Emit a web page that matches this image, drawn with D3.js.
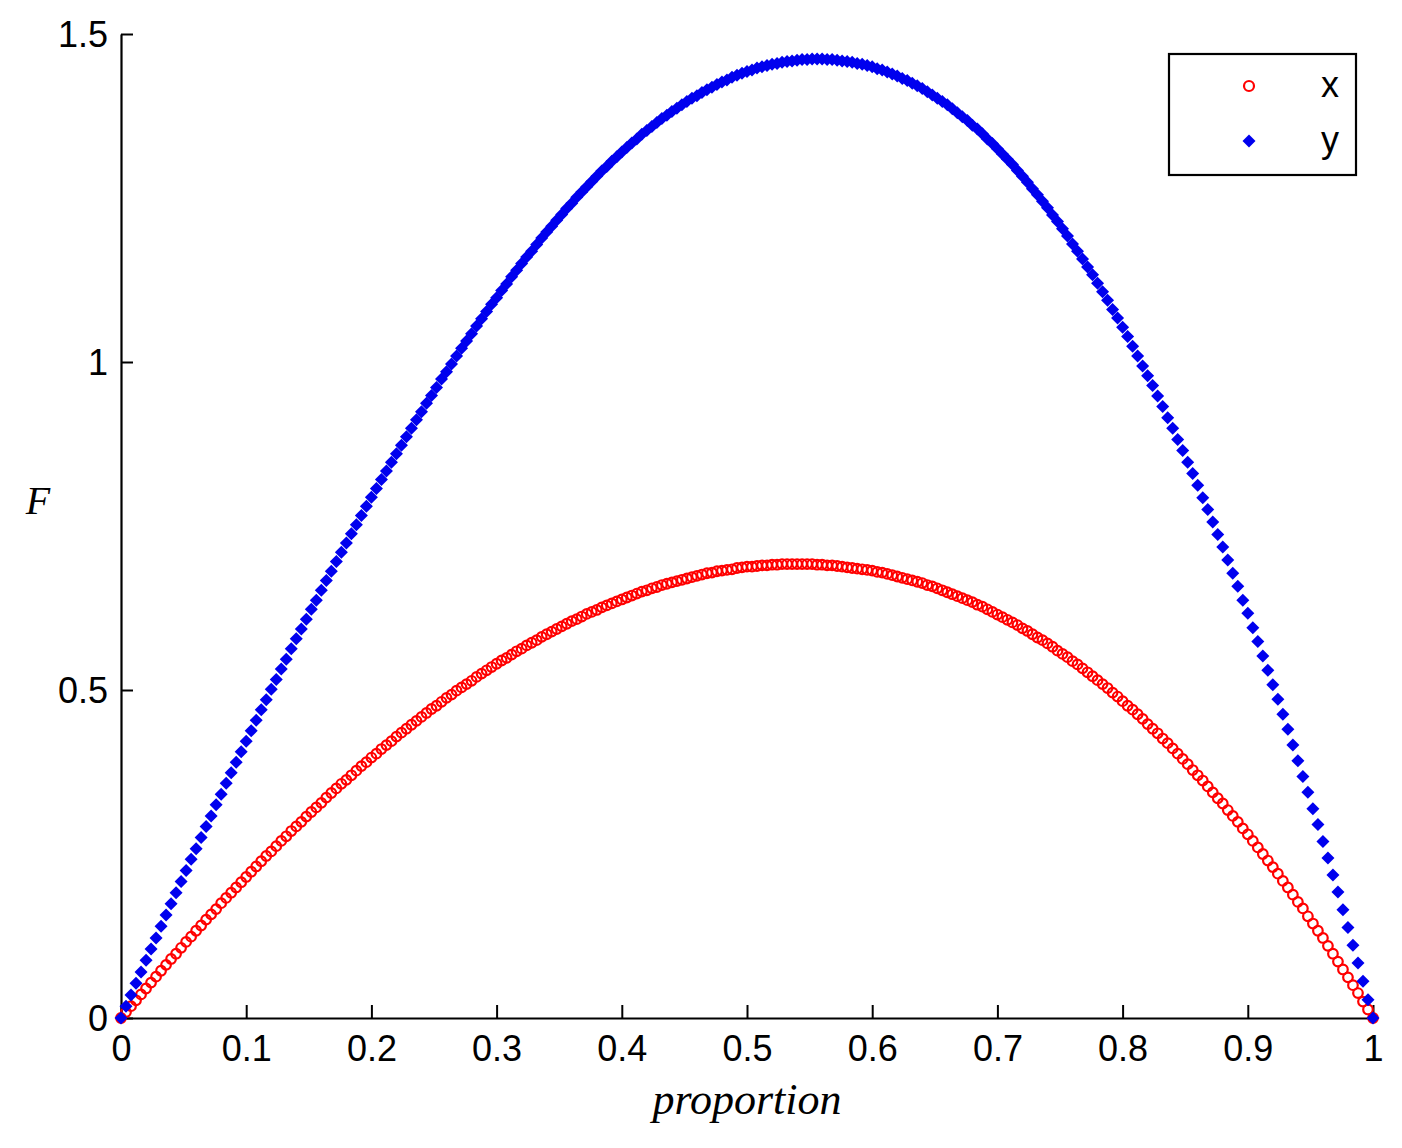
<!DOCTYPE html>
<html>
<head>
<meta charset="utf-8">
<script src="https://cdn.jsdelivr.net/npm/d3@7"></script>
<style>
  html, body { margin: 0; padding: 0; background: #ffffff; }
  svg { display: block; }
</style>
</head>
<body>
<svg id="chart" width="1402" height="1148"></svg>
<script>
// ---- data ----
const proportion = [
0,0.004,0.008,0.012,0.016,0.02,0.024,0.028,0.032,0.036,0.04,0.044,0.048,0.052,0.056,0.06,0.064,0.068,0.072,0.076,0.08,0.084,0.088,0.092,0.096,
0.1,0.104,0.108,0.112,0.116,0.12,0.124,0.128,0.132,0.136,0.14,0.144,0.148,0.152,0.156,0.16,0.164,0.168,0.172,0.176,0.18,0.184,0.188,0.192,0.196,
0.2,0.204,0.208,0.212,0.216,0.22,0.224,0.228,0.232,0.236,0.24,0.244,0.248,0.252,0.256,0.26,0.264,0.268,0.272,0.276,0.28,0.284,0.288,0.292,0.296,
0.3,0.304,0.308,0.312,0.316,0.32,0.324,0.328,0.332,0.336,0.34,0.344,0.348,0.352,0.356,0.36,0.364,0.368,0.372,0.376,0.38,0.384,0.388,0.392,0.396,
0.4,0.404,0.408,0.412,0.416,0.42,0.424,0.428,0.432,0.436,0.44,0.444,0.448,0.452,0.456,0.46,0.464,0.468,0.472,0.476,0.48,0.484,0.488,0.492,0.496,
0.5,0.504,0.508,0.512,0.516,0.52,0.524,0.528,0.532,0.536,0.54,0.544,0.548,0.552,0.556,0.56,0.564,0.568,0.572,0.576,0.58,0.584,0.588,0.592,0.596,
0.6,0.604,0.608,0.612,0.616,0.62,0.624,0.628,0.632,0.636,0.64,0.644,0.648,0.652,0.656,0.66,0.664,0.668,0.672,0.676,0.68,0.684,0.688,0.692,0.696,
0.7,0.704,0.708,0.712,0.716,0.72,0.724,0.728,0.732,0.736,0.74,0.744,0.748,0.752,0.756,0.76,0.764,0.768,0.772,0.776,0.78,0.784,0.788,0.792,0.796,
0.8,0.804,0.808,0.812,0.816,0.82,0.824,0.828,0.832,0.836,0.84,0.844,0.848,0.852,0.856,0.86,0.864,0.868,0.872,0.876,0.88,0.884,0.888,0.892,0.896,
0.9,0.904,0.908,0.912,0.916,0.92,0.924,0.928,0.932,0.936,0.94,0.944,0.948,0.952,0.956,0.96,0.964,0.968,0.972,0.976,0.98,0.984,0.988,0.992,0.996,
1
];

const seriesX = [
0,0.009,0.018,0.027,0.036,0.045,0.054,0.063,0.072,0.081,0.090,0.098,0.107,0.116,0.124,0.133,0.141,0.150,0.158,0.166,0.175,0.183,0.191,0.199,0.207,
0.215,0.223,0.231,0.239,0.247,0.254,0.262,0.270,0.277,0.285,0.292,0.299,0.307,0.314,0.321,0.328,0.336,0.343,0.350,0.357,0.363,0.370,0.377,0.384,0.390,
0.397,0.403,0.410,0.416,0.422,0.429,0.435,0.441,0.447,0.453,0.459,0.465,0.471,0.476,0.482,0.488,0.493,0.499,0.504,0.509,0.514,0.520,0.525,0.530,0.535,
0.540,0.545,0.549,0.554,0.559,0.563,0.568,0.572,0.576,0.581,0.585,0.589,0.593,0.597,0.601,0.605,0.608,0.612,0.616,0.619,0.622,0.626,0.629,0.632,0.635,
0.638,0.641,0.644,0.647,0.650,0.652,0.655,0.657,0.660,0.662,0.664,0.666,0.668,0.670,0.672,0.674,0.676,0.678,0.679,0.681,0.682,0.683,0.684,0.686,0.687,
0.688,0.688,0.689,0.690,0.690,0.691,0.691,0.692,0.692,0.692,0.692,0.692,0.692,0.692,0.691,0.691,0.690,0.690,0.689,0.688,0.687,0.686,0.685,0.684,0.683,
0.682,0.680,0.679,0.677,0.675,0.673,0.671,0.669,0.667,0.665,0.663,0.660,0.658,0.655,0.652,0.649,0.646,0.643,0.640,0.637,0.634,0.630,0.627,0.623,0.619,
0.615,0.611,0.607,0.603,0.599,0.594,0.590,0.585,0.580,0.576,0.571,0.566,0.560,0.555,0.550,0.544,0.539,0.533,0.527,0.521,0.515,0.509,0.503,0.496,0.490,
0.483,0.476,0.470,0.463,0.456,0.448,0.441,0.434,0.426,0.419,0.411,0.403,0.395,0.387,0.378,0.370,0.362,0.353,0.344,0.335,0.327,0.317,0.308,0.299,0.289,
0.280,0.270,0.260,0.250,0.240,0.230,0.220,0.209,0.199,0.188,0.177,0.167,0.155,0.144,0.133,0.122,0.110,0.098,0.086,0.074,0.062,0.050,0.038,0.025,0.013,
0
];

const seriesY = [
0,0.018,0.035,0.053,0.070,0.088,0.105,0.122,0.140,0.157,0.174,0.191,0.208,0.225,0.242,0.258,0.275,0.292,0.308,0.325,0.341,0.358,0.374,0.390,0.406,
0.422,0.438,0.454,0.470,0.485,0.501,0.516,0.532,0.547,0.563,0.578,0.593,0.608,0.623,0.637,0.652,0.667,0.681,0.696,0.710,0.724,0.738,0.752,0.766,0.780,
0.794,0.807,0.821,0.834,0.847,0.860,0.873,0.886,0.899,0.912,0.924,0.937,0.949,0.961,0.974,0.985,0.997,1.009,1.021,1.032,1.043,1.055,1.066,1.077,1.088,
1.098,1.109,1.119,1.130,1.140,1.150,1.160,1.169,1.179,1.189,1.198,1.207,1.216,1.225,1.234,1.242,1.251,1.259,1.267,1.275,1.283,1.291,1.298,1.306,1.313,
1.320,1.327,1.334,1.340,1.347,1.353,1.359,1.365,1.371,1.376,1.382,1.387,1.392,1.397,1.402,1.406,1.411,1.415,1.419,1.423,1.427,1.430,1.434,1.437,1.440,
1.443,1.445,1.448,1.450,1.452,1.454,1.455,1.457,1.458,1.459,1.460,1.461,1.461,1.462,1.462,1.462,1.461,1.461,1.460,1.459,1.458,1.457,1.455,1.454,1.452,
1.450,1.447,1.445,1.442,1.439,1.436,1.432,1.429,1.425,1.421,1.417,1.412,1.407,1.402,1.397,1.392,1.386,1.380,1.374,1.368,1.361,1.355,1.348,1.340,1.333,
1.325,1.317,1.309,1.301,1.292,1.283,1.274,1.264,1.255,1.245,1.235,1.224,1.214,1.203,1.192,1.180,1.169,1.157,1.145,1.133,1.120,1.107,1.094,1.080,1.067,
1.053,1.039,1.024,1.009,0.994,0.979,0.964,0.948,0.932,0.915,0.899,0.882,0.865,0.847,0.830,0.812,0.793,0.775,0.756,0.737,0.718,0.698,0.678,0.658,0.637,
0.617,0.595,0.574,0.552,0.530,0.508,0.486,0.463,0.440,0.416,0.392,0.368,0.344,0.319,0.295,0.269,0.244,0.218,0.192,0.165,0.138,0.111,0.084,0.056,0.028,
0
];

const xTicks = [0, 0.1, 0.2, 0.3, 0.4, 0.5, 0.6, 0.7, 0.8, 0.9, 1];
const xTickLabels = ["0", "0.1", "0.2", "0.3", "0.4", "0.5", "0.6", "0.7", "0.8", "0.9", "1"];
const yTicks = [0, 0.5, 1, 1.5];
const yTickLabels = ["0", "0.5", "1", "1.5"];
const seriesNames = ["x", "y"];
const xLabel = "proportion";
const yLabel = "F";

// ---- drawing ----
const svg = d3.select("#chart");
const labelFont = "'Liberation Sans', Arial, sans-serif";
const italicFont = "'Liberation Serif', 'Times New Roman', serif";
const RED = "#ff0000";
const BLUE = "#0000ee";

const x = d3.scaleLinear().domain([0, 1]).range([121, 1373]);
const y = d3.scaleLinear().domain([0, 1.5]).range([1018, 34]);

svg.append("rect").attr("width", 1402).attr("height", 1148).attr("fill", "#ffffff");

// axes
const xAxis = d3.axisBottom(x)
  .tickValues(xTicks)
  .tickFormat((d, i) => xTickLabels[i])
  .tickSizeInner(-13).tickSizeOuter(0).tickPadding(17);
const gx = svg.append("g").attr("transform", `translate(0,${y(0)})`).call(xAxis);

const yAxis = d3.axisLeft(y)
  .tickValues(yTicks)
  .tickFormat((d, i) => yTickLabels[i])
  .tickSizeInner(-12).tickSizeOuter(0).tickPadding(13);
const gy = svg.append("g").attr("transform", `translate(${x(0)},0)`).call(yAxis);

[gx, gy].forEach(g => {
  g.select(".domain").attr("stroke", "#000").attr("stroke-width", 2.2);
  g.selectAll(".tick line").attr("stroke", "#000").attr("stroke-width", 2);
  g.selectAll(".tick text")
    .attr("fill", "#000")
    .style("font-family", labelFont)
    .style("font-size", "36px");
});
gy.selectAll(".tick text").attr("dy", "0.36em");

// data points
const ptsX = proportion.map((p, i) => ({ p, v: seriesX[i] }));
const ptsY = proportion.map((p, i) => ({ p, v: seriesY[i] }));

svg.append("g").selectAll("circle")
  .data(ptsX).join("circle")
  .attr("cx", d => x(d.p))
  .attr("cy", d => y(d.v))
  .attr("r", 4.8)
  .attr("fill", "none")
  .attr("stroke", RED)
  .attr("stroke-width", 2.2);

const diamond = "M0,-6.5L6.5,0L0,6.5L-6.5,0Z";
svg.append("g").selectAll("path")
  .data(ptsY).join("path")
  .attr("d", diamond)
  .attr("transform", d => `translate(${x(d.p)},${y(d.v)})`)
  .attr("fill", BLUE);

// axis labels
svg.append("text")
  .attr("x", (x(0) + x(1)) / 2)
  .attr("y", 1114)
  .attr("text-anchor", "middle")
  .style("font-family", italicFont)
  .style("font-style", "italic")
  .style("font-size", "44px")
  .attr("fill", "#000")
  .text(xLabel);

svg.append("text")
  .attr("x", 38)
  .attr("y", 514)
  .attr("text-anchor", "middle")
  .style("font-family", italicFont)
  .style("font-style", "italic")
  .style("font-size", "40px")
  .attr("fill", "#000")
  .text(yLabel);

// legend
const lg = svg.append("g");
lg.append("rect")
  .attr("x", 1169).attr("y", 54)
  .attr("width", 187).attr("height", 121)
  .attr("fill", "#ffffff")
  .attr("stroke", "#000").attr("stroke-width", 2.2);
lg.append("circle")
  .attr("cx", 1249).attr("cy", 86).attr("r", 5)
  .attr("fill", "none").attr("stroke", RED).attr("stroke-width", 2.2);
lg.append("path")
  .attr("d", diamond)
  .attr("transform", "translate(1249,141)")
  .attr("fill", BLUE);
lg.selectAll("text.leg")
  .data(seriesNames).join("text")
  .attr("class", "leg")
  .attr("x", 1330)
  .attr("y", (d, i) => 86 + i * 55)
  .attr("dy", "0.3em")
  .attr("text-anchor", "middle")
  .style("font-family", labelFont)
  .style("font-size", "36px")
  .attr("fill", "#000")
  .text(d => d);
</script>
</body>
</html>
